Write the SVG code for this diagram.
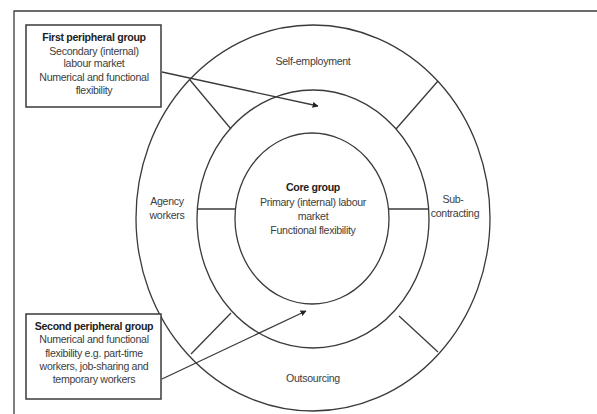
<svg xmlns="http://www.w3.org/2000/svg" width="597" height="414" viewBox="0 0 597 414">
<defs>
<style>
.ln{fill:none;stroke:#3a3a3a;stroke-width:1.3}
.box{fill:#fff;stroke:#3a3a3a;stroke-width:1.5}
text{font-family:"Liberation Sans",Arial,sans-serif;font-size:10.6px;letter-spacing:-0.3px;fill:#3d3d3d;text-anchor:middle}
.b{font-weight:bold;fill:#222}
</style>
<marker id="ah" viewBox="0 0 10 10" refX="9" refY="5" markerWidth="6" markerHeight="6" orient="auto" markerUnits="userSpaceOnUse">
<path d="M0,0 L10,5 L0,10 z" fill="#222"/>
</marker>
</defs>
<rect width="597" height="414" fill="#fff"/>
<path d="M14,414 V11 H597" class="ln" stroke-width="1.6"/>
<g id="outer-ring">
<ellipse cx="313" cy="218" rx="177" ry="193" class="ln"/>
</g>
<g id="middle-ring">
<ellipse cx="313" cy="219" rx="116" ry="129" class="ln"/>
</g>
<g id="core">
<ellipse cx="312" cy="218.5" rx="77" ry="85.5" class="ln"/>
<text x="313" y="191" class="b">Core group</text>
<text x="313" y="206">Primary (internal) labour</text>
<text x="313" y="220">market</text>
<text x="313" y="234">Functional flexibility</text>
</g>
<g id="self-employment"><text x="313" y="65">Self-employment</text></g>
<g id="agency-workers"><text x="167" y="205">Agency</text><text x="167" y="219">workers</text></g>
<g id="sub-contracting"><text x="453" y="203">Sub-</text><text x="455" y="217">contracting</text></g>
<g id="outsourcing"><text x="313" y="382">Outsourcing</text></g>
<g id="first-peripheral">
<rect x="26" y="25" width="135" height="82" class="box"/>
<text x="94" y="41" class="b">First peripheral group</text>
<text x="94" y="55">Secondary (internal)</text>
<text x="94" y="67">labour market</text>
<text x="94" y="81">Numerical and functional</text>
<text x="94" y="94">flexibility</text>
</g>
<g id="second-peripheral">
<rect x="26" y="314" width="135" height="85" class="box"/>
<text x="94" y="330" class="b">Second peripheral group</text>
<text x="94" y="343">Numerical and functional</text>
<text x="94" y="357">flexibility e.g. part-time</text>
<text x="94" y="370">workers, job-sharing and</text>
<text x="94" y="383">temporary workers</text>
</g>
<g id="connectors">
<line x1="197" y1="209" x2="235" y2="209" class="ln"/>
<line x1="389" y1="209" x2="429" y2="209" class="ln"/>
<line x1="190" y1="80" x2="231" y2="129" class="ln"/>
<line x1="438" y1="81" x2="396" y2="129" class="ln"/>
<line x1="231" y1="313" x2="191" y2="354" class="ln"/>
<line x1="399" y1="316" x2="438" y2="352" class="ln"/>
<line x1="162" y1="72" x2="318" y2="106" class="ln" marker-end="url(#ah)"/>
<line x1="162" y1="379" x2="306" y2="311" class="ln" marker-end="url(#ah)"/>
</g>
</svg>
